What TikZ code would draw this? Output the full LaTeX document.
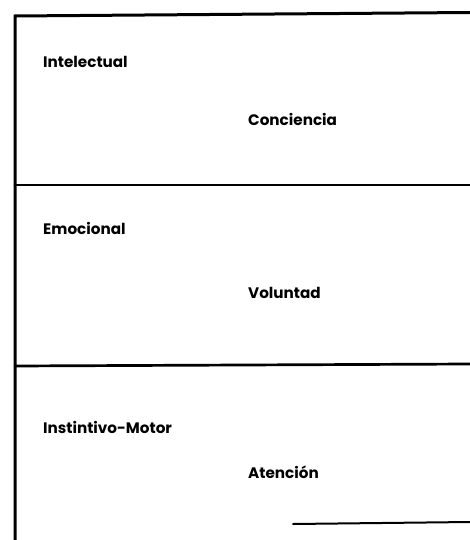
\documentclass[tikz,border=0pt]{standalone}
\usepackage{fontspec}
\setmainfont{Poppins}
\begin{document}
\begin{tikzpicture}[x=1pt,y=-1pt,
  rule/.style={line width=2.7pt,line cap=round},
  lbl/.style={anchor=west,inner sep=0pt,font=\fontsize{15.2}{17}\selectfont\bfseries}]
\useasboundingbox (0,0) rectangle (470,540);
\coordinate (tl) at (15,16);
\coordinate (tr) at (470,12.5);
\coordinate (bl) at (15,540);
\coordinate (d1l) at (15,185);
\coordinate (d1r) at (470,185);
\coordinate (d2l) at (15,366);
\coordinate (d2r) at (470,364);
\coordinate (b1) at (293,524);
\coordinate (b2) at (470,522);
\draw[rule,line width=3pt] (bl) -- (tl) -- (tr);
\draw[rule] (d1l) -- (d1r);
\draw[rule] (d2l) -- (d2r);
\draw[rule,line width=2pt] (b1) -- (b2);
\node[lbl] (int) at (43,62) {Intelectual};
\node[lbl] (con) at (248,119) {Conciencia};
\node[lbl] (emo) at (43,228) {Emocional};
\node[lbl] (vol) at (248,293) {Voluntad};
\node[lbl] (ins) at (43,427) {Instintivo-Motor};
\node[lbl] (ate) at (248,472) {Atención};
\end{tikzpicture}
\end{document}
